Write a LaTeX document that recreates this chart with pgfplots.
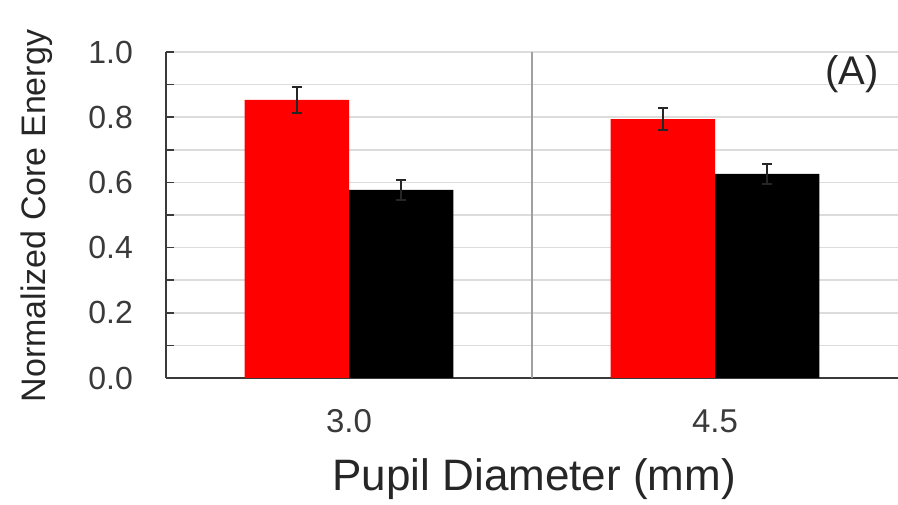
\documentclass[border=0pt]{standalone}
\usepackage{pgfplots}
\pgfplotsset{compat=1.18}
\usepackage{fontspec}
\setmainfont{Liberation Sans}
\definecolor{axgray}{HTML}{3A3A3A}
\definecolor{gridgray}{HTML}{DCDCDC}
\definecolor{sepgray}{HTML}{A0A0A0}
\definecolor{labgray}{HTML}{262626}
\definecolor{barred}{HTML}{FF0000}
\begin{document}
\begin{tikzpicture}
\path[use as bounding box] (0,0) rectangle (898pt,505pt);
\begin{axis}[
  at={(166pt,127pt)}, anchor=south west,
  scale only axis, width=732pt, height=326pt,
  xmin=-0.5, xmax=1.5, ymin=0, ymax=1,
  axis x line*=bottom, axis y line*=left,
  axis line style={axgray, line width=2pt},
  xtick={0,1}, xticklabels={3.0,4.5},
  ytick={0,0.2,0.4,0.6,0.8,1.0},
  yticklabels={0.0,0.2,0.4,0.6,0.8,1.0},
  minor ytick={0.1,0.3,0.5,0.7,0.9},
  ymajorgrids, yminorgrids,
  major grid style={gridgray, line width=1.5pt},
  minor grid style={gridgray, line width=1.5pt},
  tick align=inside,
  major tick length=8pt, minor tick length=8pt,
  y tick style={axgray, line width=1.5pt},
  x tick style={draw=none},
  extra x ticks={0.5}, extra x tick labels={},
  extra x tick style={xmajorgrids=true, major grid style={sepgray, line width=1.5pt}, tick style={draw=none}},
  yticklabel style={font=\fontsize{32}{36}\selectfont, text=axgray, anchor=east, inner sep=0pt, xshift=-33pt},
  xticklabel style={font=\fontsize{33}{36}\selectfont, text=axgray, anchor=base, inner sep=0pt, yshift=-55pt},
  xlabel={Pupil Diameter (mm)},
  xlabel style={font=\fontsize{44}{48}\selectfont, text=labgray, at={(axis description cs:0.503,-0.3436)}, anchor=base, inner sep=0pt},
  ylabel={Normalized Core Energy},
  ylabel style={font=\fontsize{34}{38}\selectfont, text=labgray, at={(axis description cs:-0.176,0.497)}, anchor=center, inner sep=0pt},
  clip=false,
]
\addplot[ybar, bar width=0.285, bar shift=0, fill=barred, draw=none,
  error bars/.cd, y dir=both, y explicit,
  error bar style={line width=2pt, black!85},
  error mark options={black!85, line width=2pt, mark size=5pt, rotate=90}]
  coordinates {(-0.1425,0.853) +- (0,0.041) (0.8575,0.794) +- (0,0.033)};
\addplot[ybar, bar width=0.285, bar shift=0, fill=black, draw=none,
  error bars/.cd, y dir=both, y explicit,
  error bar style={line width=2pt, black!85},
  error mark options={black!85, line width=2pt, mark size=5pt, rotate=90}]
  coordinates {(0.1425,0.577) +- (0,0.030) (1.1425,0.626) +- (0,0.030)};
\end{axis}
\node[font=\fontsize{40}{44}\selectfont, text=labgray, inner sep=0pt] at (852pt,431pt) {(A)};
\end{tikzpicture}
\end{document}
